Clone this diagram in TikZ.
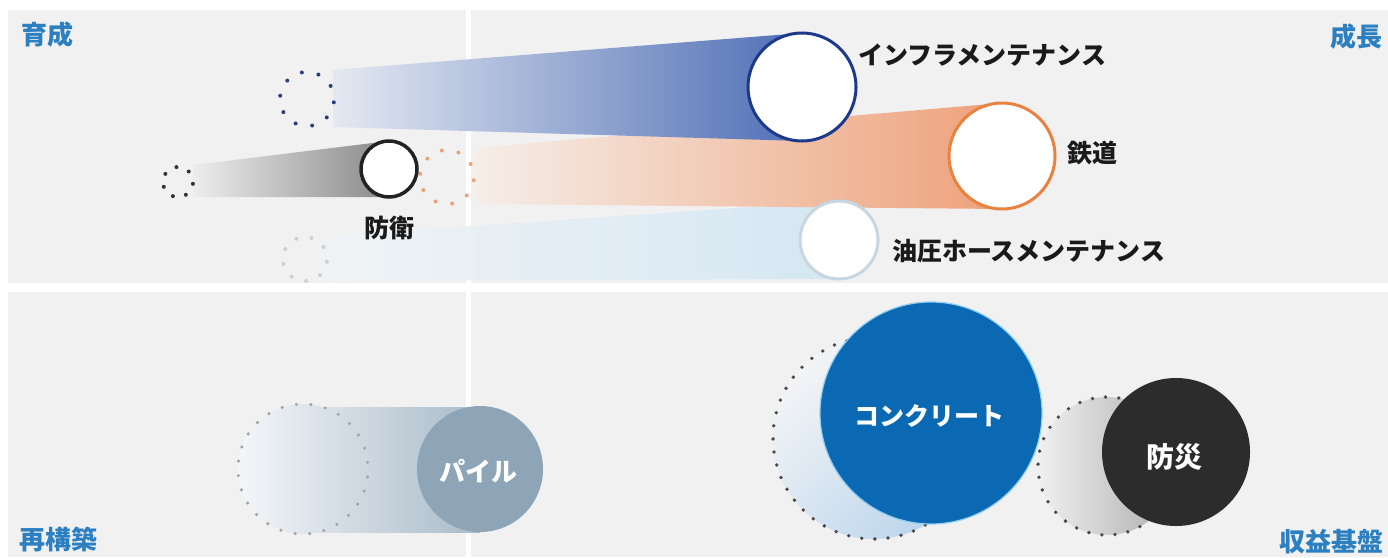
\documentclass[tikz,border=0pt]{standalone}
\usepackage{fontspec}
\newfontfamily\jp{Noto Sans CJK JP}
\definecolor{panel}{HTML}{F1F1F1}
\definecolor{cornerblue}{HTML}{2C80C2}
\definecolor{labelblack}{HTML}{1A1A1A}
\definecolor{navy}{HTML}{1D3A8A}
\definecolor{orangeline}{HTML}{E9823E}
\definecolor{paleline}{HTML}{C8D6E1}
\definecolor{blackline}{HTML}{222222}
\definecolor{pilefill}{HTML}{8EA5B8}
\definecolor{concfill}{HTML}{0B69B3}
\definecolor{concglow}{HTML}{8FCDF3}
\definecolor{bosaifill}{HTML}{2C2C2C}
\definecolor{blueL}{HTML}{E4E8F1}
\definecolor{blueR}{HTML}{4F6FB6}
\definecolor{orgL}{HTML}{F5EEE9}
\definecolor{orgR}{HTML}{EEA17A}
\definecolor{greyL}{HTML}{EDEDED}
\definecolor{greyR}{HTML}{898989}
\definecolor{paleL}{HTML}{F0F3F5}
\definecolor{paleR}{HTML}{D5E7F3}
\definecolor{pileL}{HTML}{F4F6F9}
\definecolor{pileR}{HTML}{A9BBC9}
\definecolor{concL}{HTML}{F3F4F6}
\definecolor{concR}{HTML}{BCD6EC}
\definecolor{bosL}{HTML}{F0F0F0}
\definecolor{bosR}{HTML}{ADADAD}
\definecolor{dotnavy}{HTML}{2A3E7E}
\definecolor{dotorange}{HTML}{EBA078}
\definecolor{dotdark}{HTML}{333333}
\definecolor{dotpale}{HTML}{CFCFCF}
\definecolor{dotgrey}{HTML}{A3A3A3}
\definecolor{dotmid}{HTML}{4A4A4A}
\tikzset{
  lbl/.style={font=\jp\bfseries\fontsize{25}{25}\selectfont, text=labelblack, inner sep=0pt},
  corner/.style={font=\jp\bfseries\fontsize{26}{26}\selectfont, text=cornerblue, inner sep=0pt},
  inlbl/.style={font=\jp\bfseries\fontsize{26}{26}\selectfont, text=white, inner sep=0pt},
  ring/.style={circle, inner sep=0pt, fill=white, line width=3pt},
  src/.style={circle, inner sep=0pt},
  disc/.style={circle, inner sep=0pt}
}
% #1 node, #2 radius, #3 count, #4 colour, #5 dot radius
\newcommand{\dotsround}[5]{%
  \foreach \k in {1,...,#3} {\fill[#4] (#1) ++({7+\k*(360/#3)}:#2) circle[radius=#5];}%
}
\begin{document}
\begin{tikzpicture}[x=1pt,y=-1pt]
\useasboundingbox (0,0) rectangle (1388,557);
\fill[white] (0,0) rectangle (1388,557);
% panels
\fill[panel] (8,10) rectangle (1388,283);
\fill[panel] (8,292) rectangle (1388,557);
\fill[white] (466,10) rectangle (471,557);

% ---------- top bands ----------
\shade[left color=paleL, right color=paleR] (327,236) -- (839,201) -- (839,279) -- (327,281) -- cycle;
\shade[left color=orgL, right color=orgR] (474,148) -- (1002,103) -- (1002,209) -- (474,204) -- cycle;
\shade[left color=blueL, right color=blueR] (333,70) -- (802,33) -- (802,141) -- (333,127) -- cycle;
\shade[left color=greyL, right color=greyR] (193,165) -- (389,141) -- (389,197) -- (193,197) -- cycle;

% source (dotted) circles, top
\node[src, minimum size=54pt] (infraSrc) at (307,99) {};
\node[src, minimum size=54pt] (railSrc) at (447,177) {};
\node[src, minimum size=30pt] (defSrc) at (178,182) {};
\node[src, minimum size=44pt] (hoseSrc) at (305,259) {};
\dotsround{infraSrc}{27}{10}{dotnavy}{2}
\dotsround{railSrc}{27}{10}{dotorange}{2}
\dotsround{defSrc}{15}{7}{dotdark}{2}
\dotsround{hoseSrc}{22}{9}{dotpale}{2}

% target circles, top
\node[ring, draw=paleline, minimum size=78pt] (hose) at (839,240) {};
\node[ring, draw=orangeline, minimum size=106pt] (rail) at (1002,156) {};
\node[ring, draw=navy, minimum size=108pt] (infra) at (802,87) {};
\node[ring, draw=blackline, line width=3.5pt, minimum size=56pt] (def) at (389,169) {};

% labels, top
\node[lbl, anchor=west] (infraL) at (858,55) {インフラメンテナンス};
\node[lbl, anchor=west] (railL) at (1067,153) {鉄道};
\node[lbl, anchor=west] (hoseL) at (892,251) {油圧ホースメンテナンス};
\node[lbl] (defL) at (389,228) {防衛};

% ---------- bottom ----------
\begin{scope}
  \clip (303,469) circle[radius=65];
  \shade[left color=pileL, right color=pileR] (238,404) rectangle (480,534);
\end{scope}
\begin{scope}
  \clip (303,407) rectangle (480,532);
  \shade[left color=pileL, right color=pileR] (238,404) rectangle (480,534);
\end{scope}
\shade[top color=concL, bottom color=concR, shading angle=45] (874,438) circle[radius=101];
\shade[left color=bosL, right color=bosR] (1107,466) circle[radius=69];

\node[src, minimum size=130pt] (pileSrc) at (303,469) {};
\node[src, minimum size=202pt] (concSrc) at (874,438) {};
\node[src, minimum size=138pt] (bosSrc) at (1107,466) {};
\dotsround{pileSrc}{65}{28}{dotgrey}{1.7}
\dotsround{concSrc}{101}{48}{dotmid}{1.9}
\dotsround{bosSrc}{69}{33}{dotmid}{1.9}

\node[disc, fill=pilefill, minimum size=126pt] (pile) at (480,469) {};
\node[disc, fill=concfill, draw=concglow, line width=1.2pt, minimum size=222pt] (conc) at (931,413) {};
\node[disc, fill=bosaifill, minimum size=148pt] (bosai) at (1176,452) {};

\node[inlbl] (pileL) at (478,471) {パイル};
\node[inlbl, font=\jp\bfseries\fontsize{25}{25}\selectfont] (concL) at (929,416) {コンクリート};
\node[inlbl, font=\jp\bfseries\fontsize{28}{28}\selectfont] (bosaiL) at (1174,457) {防災};

% corner labels
\node[corner, anchor=west] (q1) at (21,35) {育成};
\node[corner, anchor=east] (q2) at (1383,37) {成長};
\node[corner, anchor=west] (q3) at (19,540) {再構築};
\node[corner, anchor=east] (q4) at (1384,542) {収益基盤};
\end{tikzpicture}
\end{document}
